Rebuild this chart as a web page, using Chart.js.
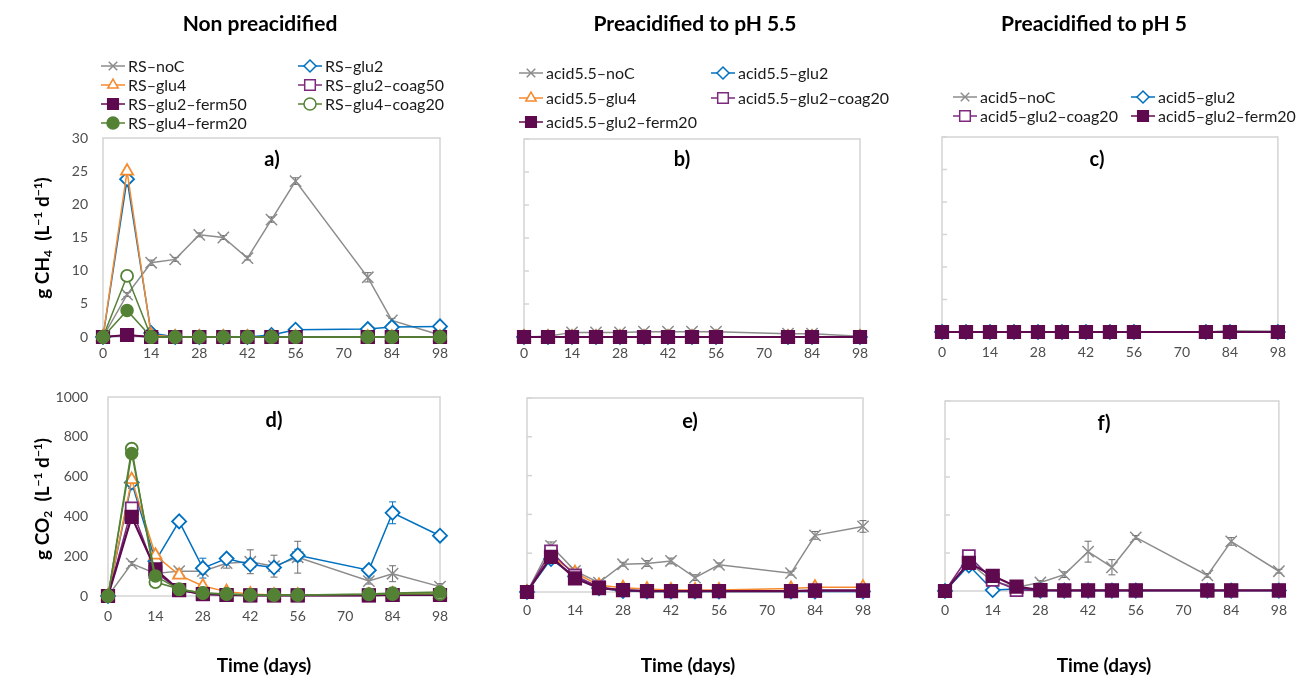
<!DOCTYPE html>
<html>
<head>
<meta charset="utf-8">
<script src="https://cdn.jsdelivr.net/npm/chart.js@4.4.0/dist/chart.umd.min.js"></script>
<style>
  html, body { margin: 0; padding: 0; background: #fff; }
  body { width: 1298px; height: 675px; position: relative; overflow: hidden; font-family: Lato, "Open Sans", sans-serif; }
  canvas { position: absolute; left: 0; top: 0; }
  .lbl { position: absolute; white-space: nowrap; font-weight: bold; color: #000; transform: translate(-50%, -50%); }
  .head { font-size: 21px; }
  .axis { font-size: 19px; }
  .panel { font-size: 20px; }
  .ytitle { font-size: 19px; transform: translate(-50%, -50%) rotate(-90deg); }
  .ytitle sub { font-size: 12px; vertical-align: -3px; }
  .ytitle sup { font-size: 12px; vertical-align: 7px; }
</style>
</head>
<body>
<canvas id="cA" width="1298" height="675"></canvas>
<canvas id="cB" width="1298" height="675"></canvas>
<canvas id="cC" width="1298" height="675"></canvas>
<canvas id="cD" width="1298" height="675"></canvas>
<canvas id="cE" width="1298" height="675"></canvas>
<canvas id="cF" width="1298" height="675"></canvas>

<div class="lbl head" style="left:260px;top:22px">Non preacidified</div>
<div class="lbl head" style="left:695px;top:22px">Preacidified to pH 5.5</div>
<div class="lbl head" style="left:1094px;top:22px">Preacidified to pH 5</div>

<div class="lbl ytitle" style="left:42px;top:238px">g CH<sub>4</sub>&nbsp;&nbsp;(L<sup>−1</sup> d<sup>−1</sup>)</div>
<div class="lbl ytitle" style="left:42px;top:499px">g CO<sub>2</sub>&nbsp;&nbsp;(L<sup>−1</sup> d<sup>−1</sup>)</div>

<div class="lbl panel" style="left:272px;top:158px">a)</div>
<div class="lbl panel" style="left:682px;top:158px">b)</div>
<div class="lbl panel" style="left:1097px;top:158px">c)</div>
<div class="lbl panel" style="left:274px;top:419px">d)</div>
<div class="lbl panel" style="left:690px;top:420px">e)</div>
<div class="lbl panel" style="left:1104px;top:422px">f)</div>

<div class="lbl axis" style="left:264px;top:664px">Time (days)</div>
<div class="lbl axis" style="left:688px;top:664px">Time (days)</div>
<div class="lbl axis" style="left:1104px;top:664px">Time (days)</div>

<script>
// Sampling days and axis ticks
const days = [0, 7, 14, 21, 28, 35, 42, 49, 56, 77, 84, 98];
const dayTicks = [0, 14, 28, 42, 56, 70, 84, 98];
const ch4Ticks = [0, 5, 10, 15, 20, 25, 30];
const co2Ticks = [0, 200, 400, 600, 800, 1000];

// Non preacidified – CH4 production (g L-1 d-1)
const ch4RS_noC        = [0, 6.4, 11.2, 11.7, 15.4, 15.0, 11.9, 17.7, 23.5, 9.0, 2.5, 0.3];
const ch4RS_noC_err    = [0, 0.3, 0.4, 0.3, 0.3, 0.3, 0.3, 0.4, 0.5, 0.7, 0.3, 0];
const ch4RS_glu2       = [0, 23.8, 0.6, 0, 0, 0, 0, 0.3, 1.1, 1.2, 1.5, 1.6];
const ch4RS_glu4       = [0, 25.0, 0.3, 0, 0, 0, 0, 0, 0, 0, 0, 0];
const ch4RS_glu2_coag50 = [0, 0.3, 0, 0, 0, 0, 0, 0, 0, 0, 0, 0];
const ch4RS_glu2_ferm50 = [0, 0.3, 0, 0, 0, 0, 0, 0, 0, 0, 0, 0];
const ch4RS_glu4_coag20 = [0, 9.2, 0, 0, 0, 0, 0, 0, 0, 0, 0, 0];
const ch4RS_glu4_ferm20 = [0, 4.0, 0, 0, 0, 0, 0, 0, 0, 0, 0, 0];

// Non preacidified – CO2 production
const co2RS_noC        = [0, 163, 113, 125, 125, 165, 172, 150, 195, 75, 112, 47];
const co2RS_noC_err    = [0, 10, 10, 10, 15, 25, 60, 55, 80, 15, 40, 15];
const co2RS_glu2       = [0, 570, 175, 375, 140, 188, 158, 143, 205, 130, 418, 303];
const co2RS_glu2_err   = [0, 30, 15, 15, 50, 20, 20, 20, 30, 15, 55, 10];
const co2RS_glu4       = [0, 585, 205, 105, 50, 22, 10, 5, 5, 5, 10, 10];
const co2RS_glu2_coag50 = [0, 440, 120, 30, 8, 5, 3, 3, 3, 3, 5, 5];
const co2RS_glu2_ferm50 = [0, 398, 134, 30, 10, 5, 3, 3, 3, 3, 5, 5];
const co2RS_glu4_coag20 = [0, 740, 70, 35, 15, 10, 5, 5, 5, 8, 10, 10];
const co2RS_glu4_ferm20 = [0, 716, 100, 33, 15, 10, 5, 5, 5, 10, 15, 20];

// Preacidified to pH 5.5 – CH4
const ch4A55_noC        = [0, 0.1, 0.7, 0.7, 0.7, 0.8, 0.8, 0.8, 0.8, 0.5, 0.5, 0.1];
const ch4A55_glu2       = [0, 0, 0, 0, 0, 0, 0, 0, 0, 0, 0, 0];
const ch4A55_glu4       = [0, 0, 0, 0, 0, 0, 0, 0, 0, 0, 0, 0];
const ch4A55_glu2_coag20 = [0, 0, 0, 0, 0, 0, 0, 0, 0, 0, 0, 0];
const ch4A55_glu2_ferm20 = [0, 0, 0, 0, 0, 0, 0, 0, 0, 0, 0, 0];

// Preacidified to pH 5.5 – CO2
const co2A55_noC        = [0, 238, 109, 48, 143, 147, 160, 74, 140, 97, 292, 338];
const co2A55_noC_err    = [0, 20, 10, 5, 10, 15, 15, 15, 10, 10, 20, 30];
const co2A55_glu2       = [0, 170, 80, 20, 5, 3, 3, 3, 3, 3, 3, 3];
const co2A55_glu4       = [0, 185, 100, 35, 22, 15, 10, 10, 10, 18, 25, 25];
const co2A55_glu2_coag20 = [0, 209, 85, 25, 10, 5, 5, 5, 5, 5, 5, 5];
const co2A55_glu2_ferm20 = [0, 181, 70, 20, 10, 5, 5, 5, 5, 5, 8, 8];

// Preacidified to pH 5 – CH4
const ch4A5_noC         = [0, 0, 0, 0, 0, 0, 0, 0, 0, 0, 0.2, 0.1];
const ch4A5_glu2        = [0, 0, 0, 0, 0, 0, 0, 0, 0, 0, 0, 0];
const ch4A5_glu2_coag20 = [0, 0, 0, 0, 0, 0, 0, 0, 0, 0, 0, 0];
const ch4A5_glu2_ferm20 = [0, 0, 0, 0, 0, 0, 0, 0, 0, 0, 0, 0];

// Preacidified to pH 5 – CO2
const co2A5_noC         = [0, 150, 50, 20, 45, 86, 207, 125, 282, 82, 261, 104];
const co2A5_noC_err     = [0, 10, 10, 5, 10, 15, 55, 40, 10, 10, 20, 10];
const co2A5_glu2        = [0, 134, 5, 10, 2, 2, 2, 2, 2, 2, 2, 2];
const co2A5_glu2_coag20 = [0, 184, 59, 5, 3, 2, 2, 2, 2, 2, 2, 2];
const co2A5_glu2_ferm20 = [0, 148, 80, 23, 5, 3, 3, 3, 3, 3, 3, 3];

// Series styles
const GRAY = '#8c8c8c', BLUE = '#0070c0', ORANGE = '#f58a2e',
      PURPLE = '#7d2a7d', PLUM = '#5f0a4e', GREEN = '#548235';
const STYLE = {
  noC:    { color: GRAY,   point: 'crossRot', r: 8,   fill: GRAY,   bw: 1.5, lw: 1.5 },
  glu2:   { color: BLUE,   point: 'rectRot',  r: 7,   fill: '#fff', bw: 1.8, lw: 1.5 },
  glu4:   { color: ORANGE, point: 'triangle', r: 7,   fill: '#fff', bw: 1.8, lw: 1.5 },
  coag:   { color: PURPLE, point: 'rect',     r: 8.5, fill: '#fff', bw: 1.8, lw: 1.5 },
  ferm:   { color: PLUM,   point: 'rect',     r: 9,   fill: PLUM,   bw: 1.5, lw: 2.2 },
  coagG:  { color: GREEN,  point: 'circle',   r: 6,   fill: '#fff', bw: 1.8, lw: 1.5 },
  fermG:  { color: GREEN,  point: 'circle',   r: 6,   fill: GREEN,  bw: 1.5, lw: 1.5 }
};

function series(label, values, style, errors) {
  const s = STYLE[style];
  return {
    label,
    data: days.map((d, i) => ({ x: d, y: values[i] })),
    errors: errors || null,
    borderColor: s.color,
    borderWidth: s.lw,
    pointStyle: s.point,
    pointRadius: s.r,
    pointBorderWidth: s.bw,
    pointBorderColor: s.color,
    pointBackgroundColor: s.fill,
    backgroundColor: s.fill,
    tension: 0,
    clip: false
  };
}

// Plot frame, inner tick marks and error bars
const framePlugin = {
  id: 'frame',
  beforeDatasetsDraw(chart, args, opts) {
    const { ctx, chartArea: a } = chart;
    const y = chart.scales.y;
    ctx.save();
    ctx.strokeStyle = '#d4d4d4';
    ctx.lineWidth = 1.5;
    ctx.strokeRect(a.left, a.top, a.right - a.left, a.bottom - a.top);
    if (opts.innerTicks) {
      y.ticks.forEach(t => {
        const py = y.getPixelForValue(t.value);
        ctx.beginPath();
        ctx.moveTo(a.left, py);
        ctx.lineTo(a.left + 5, py);
        ctx.stroke();
      });
    }
    chart.data.datasets.forEach((ds, i) => {
      if (!ds.errors) return;
      const meta = chart.getDatasetMeta(i);
      ctx.strokeStyle = ds.borderColor === GRAY ? '#6e6e6e' : ds.borderColor;
      ctx.lineWidth = 1;
      meta.data.forEach((pt, j) => {
        const e = ds.errors[j];
        if (!e) return;
        const v = ds.data[j].y;
        const y1 = y.getPixelForValue(v + e), y2 = y.getPixelForValue(Math.max(0, v - e));
        ctx.beginPath();
        ctx.moveTo(pt.x, y1); ctx.lineTo(pt.x, y2);
        ctx.moveTo(pt.x - 3.5, y1); ctx.lineTo(pt.x + 3.5, y1);
        ctx.moveTo(pt.x - 3.5, y2); ctx.lineTo(pt.x + 3.5, y2);
        ctx.stroke();
      });
    });
    ctx.restore();
  }
};

// Two-column legend placed above each top panel
const legendPlugin = {
  id: 'colLegend',
  afterDraw(chart, args, opts) {
    if (!opts.items) return;
    const ctx = chart.ctx;
    ctx.save();
    ctx.font = '16px Lato, sans-serif';
    ctx.textBaseline = 'middle';
    ctx.textAlign = 'left';
    opts.items.forEach(it => {
      const ds = chart.data.datasets[it.i];
      const mx = opts.cols[it.c], my = opts.rows[it.r];
      ctx.strokeStyle = ds.borderColor;
      ctx.lineWidth = 1.5;
      ctx.beginPath();
      ctx.moveTo(mx - 12, my); ctx.lineTo(mx + 12, my);
      ctx.stroke();
      ctx.fillStyle = ds.pointBackgroundColor;
      ctx.strokeStyle = ds.pointBorderColor;
      ctx.lineWidth = 1.5;
      Chart.helpers.drawPoint(ctx, { pointStyle: ds.pointStyle, radius: ds.pointStyle === 'rect' ? 7.5 : 6, rotation: 0, borderWidth: 1.5 }, mx, my);
      ctx.fillStyle = '#1a1a1a';
      ctx.fillText(ds.label, mx + 15, my + 1);
    });
    ctx.restore();
  }
};

function makeChart(id, datasets, cfg) {
  const n = datasets.length;
  datasets.forEach((d, i) => { d.order = n - i; });
  const yw = cfg.yLabels ? 60 : 0;
  const xh = 40;
  return new Chart(document.getElementById(id), {
    type: 'line',
    data: { datasets },
    plugins: [framePlugin, legendPlugin],
    options: {
      responsive: false,
      animation: false,
      events: [],
      layout: {
        autoPadding: false,
        padding: { left: cfg.area[0] - yw, top: cfg.area[1], right: 1298 - cfg.area[2], bottom: 675 - cfg.area[3] - xh }
      },
      plugins: {
        legend: { display: false },
        tooltip: { enabled: false },
        frame: { innerTicks: !cfg.yLabels },
        colLegend: cfg.legend || {}
      },
      scales: {
        x: {
          type: 'linear', min: 0, max: 98,
          grid: { display: false, drawTicks: false },
          border: { display: false },
          afterBuildTicks: s => { s.ticks = dayTicks.map(v => ({ value: v })); },
          afterFit: s => { s.height = xh; },
          ticks: { color: '#4d4d4d', font: { family: 'Lato', size: 14 }, padding: cfg.xPad, maxRotation: 0, autoSkip: false, callback: v => String(v) }
        },
        y: {
          type: 'linear', min: 0, max: cfg.yMax,
          grid: { display: false, drawTicks: false },
          border: { display: false },
          afterBuildTicks: s => { s.ticks = cfg.yTicks.map(v => ({ value: v })); },
          afterFit: s => { s.width = yw; },
          ticks: { display: !!cfg.yLabels, color: '#4d4d4d', font: { family: 'Lato', size: 14 }, padding: cfg.yPad || 0, callback: v => String(v) }
        }
      }
    }
  });
}

// a) Non preacidified, CH4
makeChart('cA', [
  series('RS–noC', ch4RS_noC, 'noC', ch4RS_noC_err),
  series('RS–glu2', ch4RS_glu2, 'glu2'),
  series('RS–glu4', ch4RS_glu4, 'glu4'),
  series('RS–glu2–coag50', ch4RS_glu2_coag50, 'coag'),
  series('RS–glu2–ferm50', ch4RS_glu2_ferm50, 'ferm'),
  series('RS–glu4–coag20', ch4RS_glu4_coag20, 'coagG'),
  series('RS–glu4–ferm20', ch4RS_glu4_ferm20, 'fermG')
], {
  area: [103, 138, 440, 337], yMax: 30, yTicks: ch4Ticks, yLabels: true, yPad: 15, xPad: 8,
  legend: {
    cols: [113, 310], rows: [66, 85, 104, 123],
    items: [{ i: 0, c: 0, r: 0 }, { i: 1, c: 1, r: 0 }, { i: 2, c: 0, r: 1 }, { i: 3, c: 1, r: 1 },
            { i: 4, c: 0, r: 2 }, { i: 5, c: 1, r: 2 }, { i: 6, c: 0, r: 3 }]
  }
});

// b) Preacidified to pH 5.5, CH4
makeChart('cB', [
  series('acid5.5–noC', ch4A55_noC, 'noC'),
  series('acid5.5–glu2', ch4A55_glu2, 'glu2'),
  series('acid5.5–glu4', ch4A55_glu4, 'glu4'),
  series('acid5.5–glu2–coag20', ch4A55_glu2_coag20, 'coag'),
  series('acid5.5–glu2–ferm20', ch4A55_glu2_ferm20, 'ferm')
], {
  area: [524, 139, 860, 337], yMax: 30, yTicks: ch4Ticks, xPad: 8,
  legend: {
    cols: [531, 723], rows: [73, 98, 122],
    items: [{ i: 0, c: 0, r: 0 }, { i: 1, c: 1, r: 0 }, { i: 2, c: 0, r: 1 }, { i: 3, c: 1, r: 1 }, { i: 4, c: 0, r: 2 }]
  }
});

// c) Preacidified to pH 5, CH4
makeChart('cC', [
  series('acid5–noC', ch4A5_noC, 'noC'),
  series('acid5–glu2', ch4A5_glu2, 'glu2'),
  series('acid5–glu2–coag20', ch4A5_glu2_coag20, 'coag'),
  series('acid5–glu2–ferm20', ch4A5_glu2_ferm20, 'ferm')
], {
  area: [942, 137, 1286, 332], yMax: 30, yTicks: ch4Ticks, xPad: 12,
  legend: {
    cols: [965, 1143], rows: [97, 116],
    items: [{ i: 0, c: 0, r: 0 }, { i: 1, c: 1, r: 0 }, { i: 2, c: 0, r: 1 }, { i: 3, c: 1, r: 1 }]
  }
});

// d) Non preacidified, CO2
makeChart('cD', [
  series('RS–noC', co2RS_noC, 'noC', co2RS_noC_err),
  series('RS–glu2', co2RS_glu2, 'glu2', co2RS_glu2_err),
  series('RS–glu4', co2RS_glu4, 'glu4'),
  series('RS–glu2–coag50', co2RS_glu2_coag50, 'coag'),
  series('RS–glu2–ferm50', co2RS_glu2_ferm50, 'ferm'),
  series('RS–glu4–coag20', co2RS_glu4_coag20, 'coagG'),
  series('RS–glu4–ferm20', co2RS_glu4_ferm20, 'fermG')
], { area: [108, 397, 440, 596], yMax: 1000, yTicks: co2Ticks, yLabels: true, yPad: 20, xPad: 12 });

// e) Preacidified to pH 5.5, CO2
makeChart('cE', [
  series('acid5.5–noC', co2A55_noC, 'noC', co2A55_noC_err),
  series('acid5.5–glu2', co2A55_glu2, 'glu2'),
  series('acid5.5–glu4', co2A55_glu4, 'glu4'),
  series('acid5.5–glu2–coag20', co2A55_glu2_coag20, 'coag'),
  series('acid5.5–glu2–ferm20', co2A55_glu2_ferm20, 'ferm')
], { area: [527, 398, 863, 592], yMax: 1000, yTicks: co2Ticks, xPad: 10 });

// f) Preacidified to pH 5, CO2
makeChart('cF', [
  series('acid5–noC', co2A5_noC, 'noC', co2A5_noC_err),
  series('acid5–glu2', co2A5_glu2, 'glu2'),
  series('acid5–glu2–coag20', co2A5_glu2_coag20, 'coag'),
  series('acid5–glu2–ferm20', co2A5_glu2_ferm20, 'ferm')
], { area: [945, 401, 1288, 591], yMax: 1000, yTicks: co2Ticks, xPad: 11 });
</script>
</body>
</html>
